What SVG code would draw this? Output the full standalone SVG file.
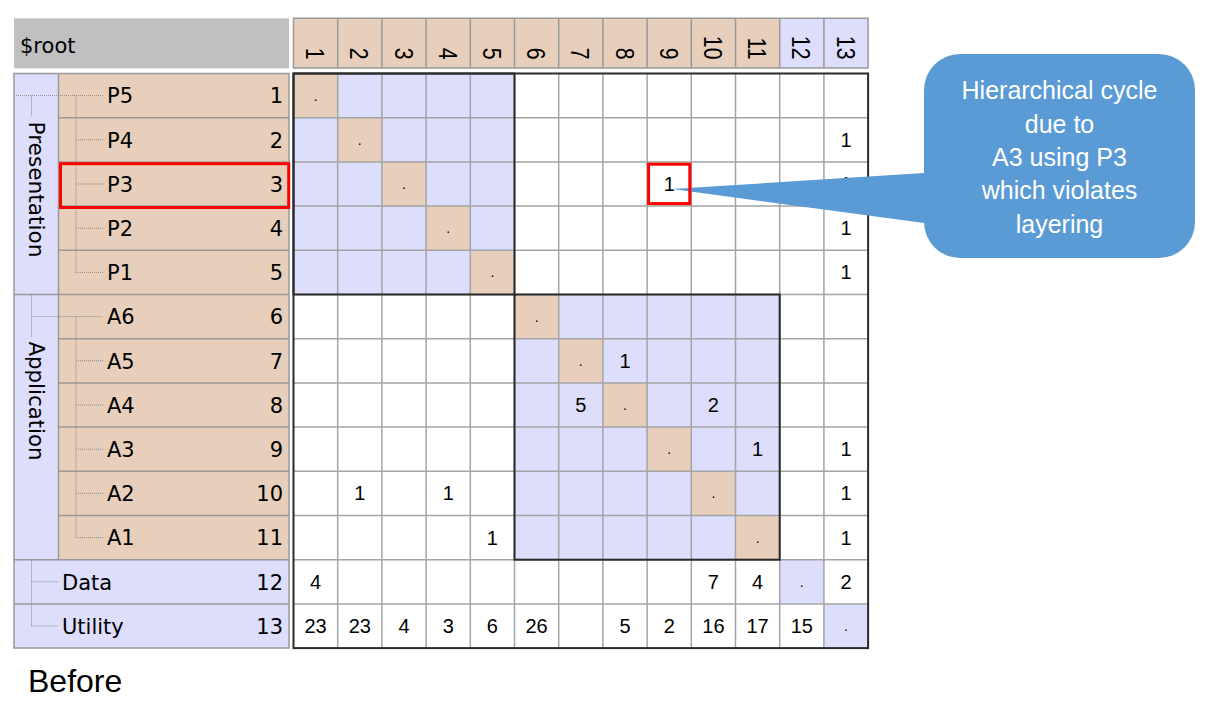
<svg xmlns="http://www.w3.org/2000/svg" width="1227" height="708" viewBox="0 0 1227 708">
<style>
.tan{fill:#E7CFBB}
.lav{fill:#DDDDFC}
.wht{fill:#FFFFFF}
.pl{stroke:#999999;stroke-width:1.5;fill:none}
.grid{stroke:#A4A4A4;stroke-width:1.5;fill:none}
.thick{stroke:#2A2A2A;stroke-width:2;fill:none}
.dot{stroke:#8A8A8A;stroke-width:1;stroke-dasharray:1 1;fill:none}
.lbl{font-family:"DejaVu Sans",Verdana,sans-serif;font-size:21px;fill:#000}
.grp{font-family:"DejaVu Sans",Verdana,sans-serif;font-size:21px;fill:#000}
.num{font-family:"DejaVu Sans",Verdana,sans-serif;font-size:21px;fill:#000;text-anchor:end}
.hd{font-family:"Liberation Sans",Arial,sans-serif;font-size:26px;fill:#000;text-anchor:end}
.c{font-family:"Liberation Sans",Arial,sans-serif;font-size:20px;fill:#000;text-anchor:middle}
.d{font-family:"Liberation Sans",Arial,sans-serif;font-size:14px;fill:#000;text-anchor:middle}
.red{stroke:#FF0000;stroke-width:3;fill:none}
.ct{font-family:"Liberation Sans",Arial,sans-serif;font-size:25px;fill:#FFFFFF;text-anchor:middle}
</style>
<rect width="1227" height="708" fill="#FFFFFF"/>

<!-- root header -->
<g id="root-header">
<rect x="14" y="18.3" width="275" height="50" fill="#C0C0C0"/>
<text class="lbl" x="20" y="53">$root</text>
</g>

<!-- column headers -->
<g id="col-headers">
<rect class="tan" x="293.5" y="18.3" width="486.2" height="49.7"/>
<rect class="lav" x="779.7" y="18.3" width="88.4" height="49.7"/>
<path class="pl" d="M293.5 18.3H868.1V68H293.5Z M337.7 18.3V68 M381.9 18.3V68 M426.1 18.3V68 M470.3 18.3V68 M514.5 18.3V68 M558.7 18.3V68 M602.9 18.3V68 M647.1 18.3V68 M691.3 18.3V68 M735.5 18.3V68 M779.7 18.3V68 M823.9 18.3V68"/>
<text class="hd" transform="translate(306.2,59.5) rotate(90) scale(0.82,1)">1</text>
<text class="hd" transform="translate(350.4,59.5) rotate(90) scale(0.82,1)">2</text>
<text class="hd" transform="translate(394.6,59.5) rotate(90) scale(0.82,1)">3</text>
<text class="hd" transform="translate(438.8,59.5) rotate(90) scale(0.82,1)">4</text>
<text class="hd" transform="translate(483.0,59.5) rotate(90) scale(0.82,1)">5</text>
<text class="hd" transform="translate(527.2,59.5) rotate(90) scale(0.82,1)">6</text>
<text class="hd" transform="translate(571.4,59.5) rotate(90) scale(0.82,1)">7</text>
<text class="hd" transform="translate(615.6,59.5) rotate(90) scale(0.82,1)">8</text>
<text class="hd" transform="translate(659.8,59.5) rotate(90) scale(0.82,1)">9</text>
<text class="hd" transform="translate(704.0,59.5) rotate(90) scale(0.82,1)">10</text>
<text class="hd" transform="translate(748.2,59.5) rotate(90) scale(0.82,1)">11</text>
<text class="hd" transform="translate(792.4,59.5) rotate(90) scale(0.82,1)">12</text>
<text class="hd" transform="translate(836.6,59.5) rotate(90) scale(0.82,1)">13</text>
</g>

<!-- tree panel -->
<g id="tree-panel">
<rect class="lav" x="14" y="73.5" width="44.5" height="486.2"/>
<rect class="tan" x="58.5" y="73.5" width="230.5" height="486.2"/>
<rect class="lav" x="14" y="559.7" width="275" height="88.4"/>
<path class="pl" d="M14 73.5H289V648.1H14Z M58.5 73.5V559.7 M58.5 117.7H289 M58.5 161.9H289 M58.5 206.1H289 M58.5 250.3H289 M14 294.5H289 M58.5 338.7H289 M58.5 382.9H289 M58.5 427.1H289 M58.5 471.3H289 M58.5 515.5H289 M14 559.7H289 M14 603.9H289"/>
</g>

<g id="tree-lines">
<path class="dot" d="M16 95.6H103 M31.5 95.6V116 M76 95.6V272.4 M76 139.8H103 M76 184H103 M76 228.2H103 M76 272.4H103"/>
<path class="dot" d="M31.5 294.5V337 M31.5 316.6H103 M76 316.6V537.6 M76 360.8H103 M76 405H103 M76 449.2H103 M76 493.4H103 M76 537.6H103"/>
<path class="dot" d="M31.5 559.7V626 M31.5 581.8H58 M31.5 626H58"/>
</g>

<g id="group-presentation">
<text class="grp" transform="translate(28.5,121.5) rotate(90)" textLength="136" lengthAdjust="spacingAndGlyphs">Presentation</text>
</g>
<g id="group-application">
<text class="grp" transform="translate(28.5,341.5) rotate(90)" textLength="119" lengthAdjust="spacingAndGlyphs">Application</text>
</g>

<g id="node-P5"><text class="lbl" x="107" y="103.3">P5</text><text class="num" x="283" y="103.3">1</text></g>
<g id="node-P4"><text class="lbl" x="107" y="147.5">P4</text><text class="num" x="283" y="147.5">2</text></g>
<g id="node-P3"><text class="lbl" x="107" y="191.7">P3</text><text class="num" x="283" y="191.7">3</text></g>
<g id="node-P2"><text class="lbl" x="107" y="235.9">P2</text><text class="num" x="283" y="235.9">4</text></g>
<g id="node-P1"><text class="lbl" x="107" y="280.1">P1</text><text class="num" x="283" y="280.1">5</text></g>
<g id="node-A6"><text class="lbl" x="107" y="324.3">A6</text><text class="num" x="283" y="324.3">6</text></g>
<g id="node-A5"><text class="lbl" x="107" y="368.5">A5</text><text class="num" x="283" y="368.5">7</text></g>
<g id="node-A4"><text class="lbl" x="107" y="412.7">A4</text><text class="num" x="283" y="412.7">8</text></g>
<g id="node-A3"><text class="lbl" x="107" y="456.9">A3</text><text class="num" x="283" y="456.9">9</text></g>
<g id="node-A2"><text class="lbl" x="107" y="501.1">A2</text><text class="num" x="283" y="501.1">10</text></g>
<g id="node-A1"><text class="lbl" x="107" y="545.3">A1</text><text class="num" x="283" y="545.3">11</text></g>
<g id="node-Data"><text class="lbl" x="62" y="589.5">Data</text><text class="num" x="283" y="589.5">12</text></g>
<g id="node-Utility"><text class="lbl" x="62" y="633.7">Utility</text><text class="num" x="283" y="633.7">13</text></g>

<!-- matrix -->
<g id="matrix">
<rect class="wht" x="293.5" y="73.5" width="574.6" height="574.6"/>
<rect class="lav" x="293.5" y="73.5" width="221" height="221"/>
<rect class="lav" x="514.5" y="294.5" width="265.2" height="265.2"/>
<rect class="tan" x="293.5" y="73.5" width="44.2" height="44.2"/>
<rect class="tan" x="337.7" y="117.7" width="44.2" height="44.2"/>
<rect class="tan" x="381.9" y="161.9" width="44.2" height="44.2"/>
<rect class="tan" x="426.1" y="206.1" width="44.2" height="44.2"/>
<rect class="tan" x="470.3" y="250.3" width="44.2" height="44.2"/>
<rect class="tan" x="514.5" y="294.5" width="44.2" height="44.2"/>
<rect class="tan" x="558.7" y="338.7" width="44.2" height="44.2"/>
<rect class="tan" x="602.9" y="382.9" width="44.2" height="44.2"/>
<rect class="tan" x="647.1" y="427.1" width="44.2" height="44.2"/>
<rect class="tan" x="691.3" y="471.3" width="44.2" height="44.2"/>
<rect class="tan" x="735.5" y="515.5" width="44.2" height="44.2"/>
<rect class="lav" x="779.7" y="559.7" width="44.2" height="44.2"/>
<rect class="lav" x="823.9" y="603.9" width="44.2" height="44.2"/>
<path class="grid" d="M337.7 73.5V648.1 M381.9 73.5V648.1 M426.1 73.5V648.1 M470.3 73.5V648.1 M514.5 73.5V648.1 M558.7 73.5V648.1 M602.9 73.5V648.1 M647.1 73.5V648.1 M691.3 73.5V648.1 M735.5 73.5V648.1 M779.7 73.5V648.1 M823.9 73.5V648.1 M293.5 117.7H868.1 M293.5 161.9H868.1 M293.5 206.1H868.1 M293.5 250.3H868.1 M293.5 294.5H868.1 M293.5 338.7H868.1 M293.5 382.9H868.1 M293.5 427.1H868.1 M293.5 471.3H868.1 M293.5 515.5H868.1 M293.5 559.7H868.1 M293.5 603.9H868.1"/>
<rect class="thick" x="293.5" y="73.5" width="221" height="221"/>
<rect class="thick" x="514.5" y="294.5" width="265.2" height="265.2"/>
<rect class="thick" x="293.5" y="73.5" width="574.6" height="574.6"/>
</g>

<g id="matrix-diagonal">
<text class="d" x="315.6" y="100.6">.</text>
<text class="d" x="359.8" y="144.8">.</text>
<text class="d" x="404.0" y="189.0">.</text>
<text class="d" x="448.2" y="233.2">.</text>
<text class="d" x="492.4" y="277.4">.</text>
<text class="d" x="536.6" y="321.6">.</text>
<text class="d" x="580.8" y="365.8">.</text>
<text class="d" x="625.0" y="410.0">.</text>
<text class="d" x="669.2" y="454.2">.</text>
<text class="d" x="713.4" y="498.4">.</text>
<text class="d" x="757.6" y="542.6">.</text>
<text class="d" x="801.8" y="586.8">.</text>
<text class="d" x="846.0" y="631.0">.</text>
</g>

<g id="matrix-values">
<text class="c" x="846.0" y="146.8">1</text>
<text class="c" x="669.2" y="191.0">1</text>
<text class="c" x="846.0" y="191.0">1</text>
<text class="c" x="846.0" y="235.2">1</text>
<text class="c" x="846.0" y="279.4">1</text>
<text class="c" x="625.0" y="367.8">1</text>
<text class="c" x="580.8" y="412.0">5</text>
<text class="c" x="713.4" y="412.0">2</text>
<text class="c" x="757.6" y="456.2">1</text>
<text class="c" x="846.0" y="456.2">1</text>
<text class="c" x="359.8" y="500.4">1</text>
<text class="c" x="448.2" y="500.4">1</text>
<text class="c" x="846.0" y="500.4">1</text>
<text class="c" x="492.4" y="544.6">1</text>
<text class="c" x="846.0" y="544.6">1</text>
<text class="c" x="315.6" y="588.8">4</text>
<text class="c" x="713.4" y="588.8">7</text>
<text class="c" x="757.6" y="588.8">4</text>
<text class="c" x="846.0" y="588.8">2</text>
<text class="c" x="315.6" y="633.0">23</text>
<text class="c" x="359.8" y="633.0">23</text>
<text class="c" x="404.0" y="633.0">4</text>
<text class="c" x="448.2" y="633.0">3</text>
<text class="c" x="492.4" y="633.0">6</text>
<text class="c" x="536.6" y="633.0">26</text>
<text class="c" x="625.0" y="633.0">5</text>
<text class="c" x="669.2" y="633.0">2</text>
<text class="c" x="713.4" y="633.0">16</text>
<text class="c" x="757.6" y="633.0">17</text>
<text class="c" x="801.8" y="633.0">15</text>
</g>

<!-- callout -->
<g id="callout">
<path d="M924 173 L672 189 L924 223 Z" fill="#5B9BD5"/>
<rect x="924" y="54" width="271" height="204" rx="36" ry="36" fill="#5B9BD5"/>
<text class="ct" x="1059.5" y="99.3">Hierarchical cycle</text>
<text class="ct" x="1059.5" y="132.6">due to</text>
<text class="ct" x="1059.5" y="165.9">A3 using P3</text>
<text class="ct" x="1059.5" y="199.2">which violates</text>
<text class="ct" x="1059.5" y="232.5">layering</text>
</g>

<g id="highlights">
<rect class="red" x="60.5" y="163.7" width="228.2" height="43.8"/>
<rect class="red" x="648.6" y="164.2" width="41.2" height="39.4"/>
</g>

<text id="caption" x="28" y="691.5" font-family="'Liberation Sans',Arial,sans-serif" font-size="32" fill="#000">Before</text>
</svg>
